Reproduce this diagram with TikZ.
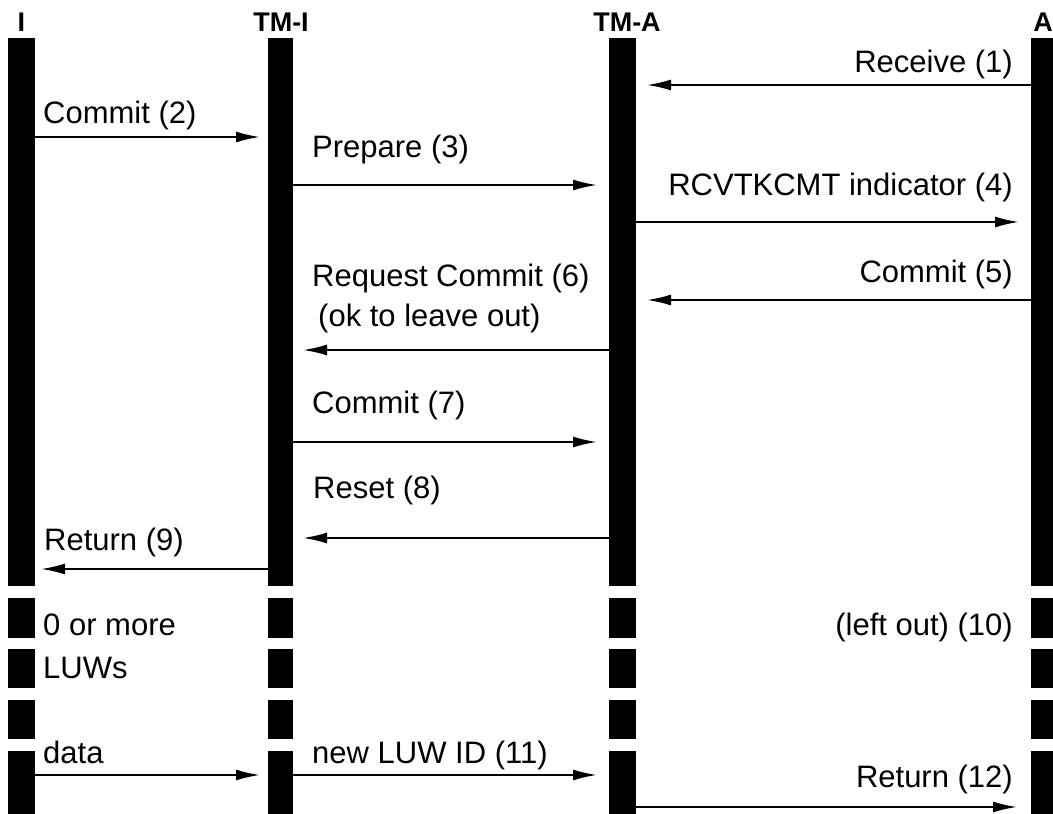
\documentclass[tikz,border=0pt]{standalone}
\usepackage{fontspec}
\setmainfont{Liberation Sans}
\usetikzlibrary{arrows.meta,calc}
\tikzset{
  bar/.style={fill=black, draw=none, inner sep=0pt, outer sep=0pt, anchor=north west},
  msg/.style={line width=2pt, -{Latex[length=24pt,width=11pt]}},
  lbl/.style={inner sep=0pt, font=\fontsize{31}{36}\selectfont},
  hdr/.style={inner sep=0pt, anchor=base, font=\fontsize{27}{30}\selectfont\bfseries},
}
\begin{document}
\begin{tikzpicture}[x=1pt,y=-1pt]
\clip (0,0) rectangle (1053,814);
\fill[white] (0,0) rectangle (1053,814);
% bars: name prefix, left x, width
\foreach \n/\x/\w in {I/8/27, TI/268/25, TA/609/27, A/1031/27}{
  \node[bar, minimum width=\w pt, minimum height=548pt] (\n1) at (\x,38) {};
  \node[bar, minimum width=\w pt, minimum height=40pt] (\n2) at (\x,598) {};
  \node[bar, minimum width=\w pt, minimum height=39pt] (\n3) at (\x,649) {};
  \node[bar, minimum width=\w pt, minimum height=39pt] (\n4) at (\x,700) {};
  \node[bar, minimum width=\w pt, minimum height=64pt] (\n5) at (\x,751) {};
}
% headers
\node[hdr] (hI) at (21.5,31) {I};
\node[hdr] (hTI) at (281,31) {TM-I};
\node[hdr] (hTA) at (627,31) {TM-A};
\node[hdr] (hA) at (1043,31) {A};
% messages
\draw[msg] (A1.west|-0,85) -- ($(TA1.east|-0,85)+(11,0)$);
\draw[msg] (I1.east|-0,137) -- ($(TI1.west|-0,137)+(-8,0)$);
\draw[msg] (TI1.east|-0,185) -- ($(TA1.west|-0,185)+(-12,0)$);
\draw[msg] (TA1.east|-0,222) -- ($(A1.west|-0,222)+(-12,0)$);
\draw[msg] (A1.west|-0,300) -- ($(TA1.east|-0,300)+(11,0)$);
\draw[msg] (TA1.west|-0,350) -- ($(TI1.east|-0,350)+(10,0)$);
\draw[msg] (TI1.east|-0,442) -- ($(TA1.west|-0,442)+(-12,0)$);
\draw[msg] (TA1.west|-0,538) -- ($(TI1.east|-0,538)+(10,0)$);
\draw[msg] (TI1.west|-0,569) -- ($(I1.east|-0,569)+(6,0)$);
\draw[msg] (I5.east|-0,775) -- ($(TI5.west|-0,775)+(-8,0)$);
\draw[msg] (TI5.east|-0,775) -- ($(TA5.west|-0,775)+(-12,0)$);
\draw[msg] (TA5.east|-0,807) -- ($(A5.west|-0,807)+(-14,0)$);
% labels
\node[lbl, anchor=base east] (l1) at (1013,72) {Receive (1)};
\node[lbl, anchor=base west] (l2) at (43,123) {Commit (2)};
\node[lbl, anchor=base west] (l3) at (312,157) {Prepare (3)};
\node[lbl, anchor=base east] (l4) at (1013,195) {RCVTKCMT indicator (4)};
\node[lbl, anchor=base east] (l5) at (1013,282) {Commit (5)};
\node[lbl, anchor=base west] (l6) at (312,286) {Request Commit (6)};
\node[lbl, anchor=base west] (l6b) at (318,326) {(ok to leave out)};
\node[lbl, anchor=base west] (l7) at (312,413) {Commit (7)};
\node[lbl, anchor=base west] (l8) at (313,498) {Reset (8)};
\node[lbl, anchor=base west] (l9) at (44,550) {Return (9)};
\node[lbl, anchor=base west] (lz) at (43,635) {0 or more};
\node[lbl, anchor=base east] (l10) at (1013,635) {(left out) (10)};
\node[lbl, anchor=base west] (lluw) at (43,678) {LUWs};
\node[lbl, anchor=base west] (ld) at (43,763) {data};
\node[lbl, anchor=base west] (l11) at (312,763) {new LUW ID (11)};
\node[lbl, anchor=base east] (l12) at (1013,787) {Return (12)};
\end{tikzpicture}
\end{document}
